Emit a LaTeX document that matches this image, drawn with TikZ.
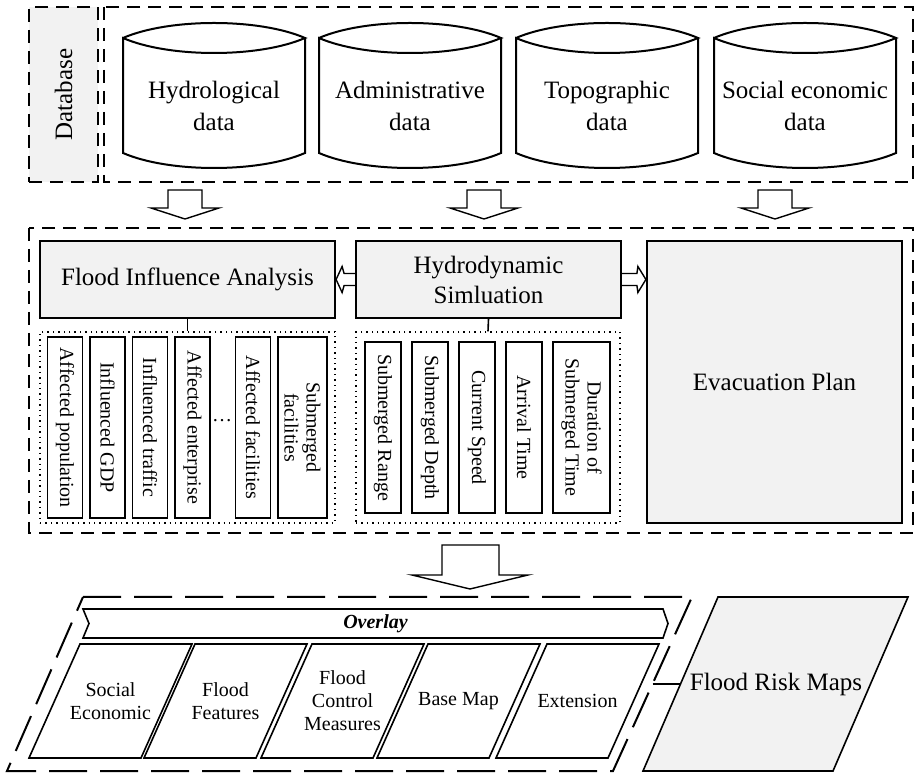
\documentclass[tikz,border=0pt]{standalone}
\usepackage{fontspec}
\setmainfont{Liberation Serif}
\usetikzlibrary{calc}
\definecolor{panel}{HTML}{F2F2F2}
\tikzset{
  zone/.style={draw, line width=1pt, dash pattern=on 6.5pt off 4pt},
  bigzone/.style={draw, line width=1pt, dash pattern=on 19pt off 6.5pt},
  cyl/.style={draw, line width=1pt, line join=miter},
  bigtext/.style={font=\fontsize{12.5}{16}\selectfont, align=center},
  procbox/.style={draw, line width=1.1pt, fill=panel, inner sep=0pt, bigtext},
  group/.style={draw, line width=0.7pt, dotted},
  item/.style={draw, line width=0.8pt, rotate=-90, inner sep=0pt, align=center,
    font=\fontsize{10}{11}\selectfont},
  blockarrow/.style={draw, line width=0.7pt, fill=white},
  layer/.style={draw, line width=0.8pt},
  layertext/.style={align=center, font=\fontsize{10}{11.5}\selectfont},
  link/.style={draw, line width=0.8pt}
}

\begin{document}
\begin{tikzpicture}[x=0.5pt, y=-0.5pt]
  \useasboundingbox (0,0) rectangle (916,774);

  % database row
  \node[zone, fill=panel, minimum width=34.5pt, minimum height=87.5pt, inner sep=0pt] (db) at (63.5,94.5) {};
  \node[bigtext, rotate=90] at (db.center) {Database};
  \draw[zone] (104,7) rectangle (913,182);

  \foreach \cx/\name/\txt in {214/hyd/{Hydrological\\data}, 410/adm/{Administrative\\data},
                              607/topo/{Topographic\\data}, 805/soc/{Social economic\\data}} {
    \draw[cyl] (\cx-91,38) .. controls (\cx-45,18) and (\cx+45,18) .. (\cx+91,38)
      .. controls (\cx+45,58) and (\cx-45,58) .. (\cx-91,38) -- (\cx-91,153)
      .. controls (\cx-45,173) and (\cx+45,173) .. (\cx+91,153) -- (\cx+91,38);
    \node[bigtext] (\name) at (\cx,106) {\txt};
  }

  % arrows into the analysis part
  \foreach \ax in {185,484,775}
    \draw[blockarrow] (\ax-17,190) -- (\ax+17,190) -- (\ax+17,208) -- (\ax+34,208)
      -- (\ax,219) -- (\ax-34,208) -- (\ax-17,208) -- cycle;

  % analysis part
  \draw[zone] (29,228) rectangle (913,533);
  \node[procbox, minimum width=147.5pt, minimum height=38.5pt] (fia) at (187.5,279.5) {Flood Influence Analysis};
  \node[procbox, minimum width=132.5pt, minimum height=38.5pt, font=\fontsize{12.5}{15}\selectfont] (sim) at (488.5,279.5) {Hydrodynamic\\Simluation};
  \node[procbox, minimum width=127.5pt, minimum height=141pt] (evac) at (774.5,382) {Evacuation Plan};

  \node[group, minimum width=147.5pt, minimum height=95.5pt] (fiagrp) at (187.5,427.5) {};
  \node[group, minimum width=132pt, minimum height=95.5pt] (simgrp) at (488,427.5) {};
  \draw[link] (fia.south) -- (fiagrp.north);
  \draw[link] (sim.south) -- (simgrp.north);

  \foreach \x/\w/\name/\txt in {65/17.5/pop/{Affected population}, 107.5/17.5/gdp/{Influenced GDP},
      150/17.5/traf/{Influenced traffic}, 192.5/17.5/ent/{Affected enterprise},
      253/17.5/fac/{Affected facilities}, 302.5/24.5/subfac/{Submerged\\facilities}}
    \node[item, minimum width=90.5pt, minimum height=\w pt] (\name) at (\x,427.5) {\txt};
  \node (more) at (222,421) {\dots};

  \foreach \x/\w/\name/\txt in {383/18/range/{Submerged Range}, 430/18/depth/{Submerged Depth},
      477/18/speed/{Current Speed}, 524/18/arrive/{Arrival Time},
      581.5/28.5/dur/{Duration of\\Submerged Time}}
    \node[item, minimum width=85.5pt, minimum height=\w pt] (\name) at (\x,427.5) {\txt};

  \draw[blockarrow] ($(sim.west)+(0,-6)$) -- ($(fia.east)+(8,-6)$) -- ($(fia.east)+(6,-13)$)
    -- (fia.east) -- ($(fia.east)+(6,13)$) -- ($(fia.east)+(8,6)$) -- ($(sim.west)+(0,6)$);
  \coordinate (evtip) at (sim.east -| evac.west);
  \draw[blockarrow] ($(sim.east)+(0,-6)$) -- ($(evtip)+(-9,-6)$) -- ($(evtip)+(-8,-13)$)
    -- (evtip) -- ($(evtip)+(-8,13)$) -- ($(evtip)+(-9,6)$) -- ($(sim.east)+(0,6)$);

  % arrow to the map part
  \draw[blockarrow] (442,545) -- (499,545) -- (499,575) -- (528,575) -- (470,589)
    -- (412,575) -- (442,575) -- cycle;

  % map layers
  \draw[bigzone] (83,597) -- (692,597) -- (613,771) -- (7,771) -- cycle;
  \draw[layer] (83,609) -- (663,609) -- (668,623.5) -- (663,638) -- (83,638) -- (89,623.5) -- cycle;
  \node[font=\fontsize{10}{12}\selectfont\bfseries\itshape] (overlay) at (375.5,623.5) {Overlay};

  \foreach \tl/\name/\txt in {80/lsoc/{Social\\Economic}, 195/lfeat/{Flood\\Features},
      312/lctrl/{Flood\\Control\\Measures}, 428/lbase/{Base Map}, 547/lext/{Extension}} {
    \draw[layer] (\tl,644) -- (\tl+112,644) -- (\tl+61,758) -- (\tl-51,758) -- cycle;
    \node[layertext] (\name) at (\tl+30.5,701) {\txt};
  }

  \draw[layer, fill=panel] (718,597) -- (908,597) -- (833,771) -- (643,771) -- cycle;
  \node[bigtext] (frm) at (776,684) {Flood Risk Maps};
  \coordinate (zoneR) at (652.5,684);
  \coordinate (frmL) at (680.5,684);
  \draw[link] (zoneR) -- (frmL);
\end{tikzpicture}
\end{document}
